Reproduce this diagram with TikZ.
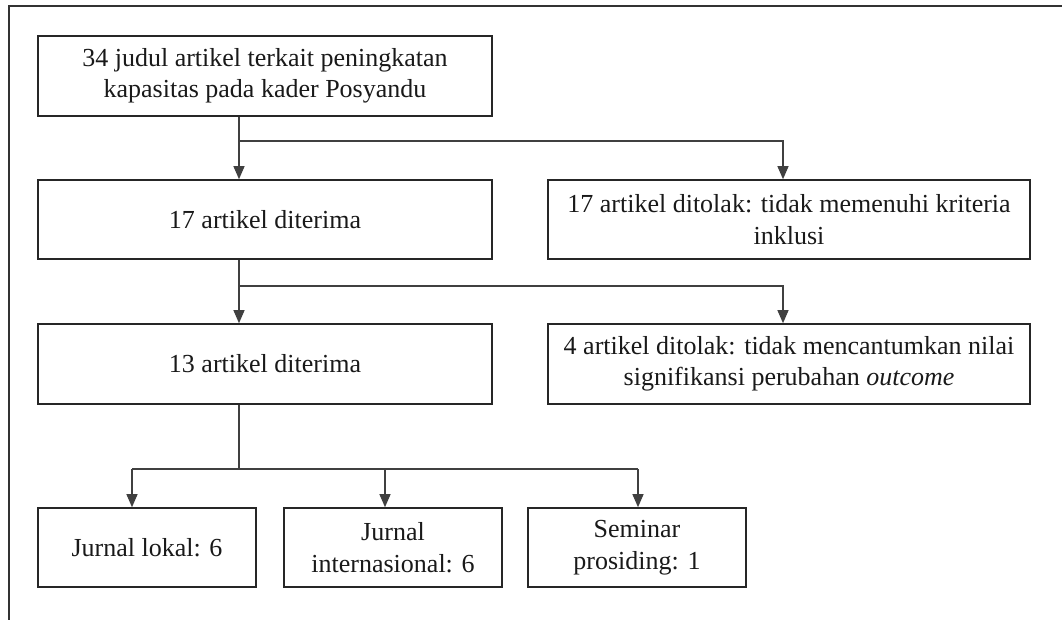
\documentclass[tikz,border=0pt]{standalone}
\usepackage{fontspec}
\setmainfont{Liberation Serif}
\usetikzlibrary{arrows.meta}
\begin{document}
\begin{tikzpicture}[x=1pt,y=-1pt,
  boxnode/.style={draw=black!85,line width=1.6pt,rectangle,inner sep=0pt,align=center,
    font=\fontsize{26}{31.5}\selectfont,text=black!90},
  mainbox/.style={boxnode,minimum width=454pt,minimum height=80pt},
  sidebox/.style={boxnode,minimum width=482pt,minimum height=80pt},
  smallbox/.style={boxnode,minimum width=218pt,minimum height=79pt},
  conn/.style={draw=black!75,line width=1.2pt},
  arr/.style={conn,-{Triangle[width=11pt,length=13pt]}}]
\useasboundingbox (0,0) rectangle (1062,620);
% outer frame (cropped)
\draw[black!80,line width=2pt] (1062,6) -- (9,6) -- (9,620);

\node[mainbox] (b1) at (265,76) {34 judul artikel terkait peningkatan\\kapasitas pada kader Posyandu};
\node[mainbox,minimum height=79pt] (b2) at (265,219.5) {17 artikel diterima};
\node[sidebox,minimum height=79pt] (r1) at (789,219.5) {17 artikel ditolak: tidak memenuhi kriteria\\inklusi};
\node[mainbox] (b3) at (265,364) {13 artikel diterima};
\node[sidebox] (r2) at (789,364) {4 artikel ditolak: tidak mencantumkan nilai\\signifikansi perubahan \textit{outcome}};
\node[smallbox] (j1) at (147,547.5) {Jurnal lokal: 6};
\node[smallbox] (j2) at (393,547.5) {Jurnal\\internasional: 6};
\node[smallbox] (j3) at (637,547.5) {Seminar\\prosiding: 1};

% branch points
\coordinate (s1) at (239,141);
\coordinate (k1) at (783,141);
\coordinate (s2) at (239,286);
\coordinate (k2) at (783,286);
\coordinate (s3) at (239,469);
\coordinate (t1) at (132,469);
\coordinate (t2) at (385,469);
\coordinate (t3) at (638,469);

\draw[arr] (b1.south -| s1) -- (b2.north -| s1);
\draw[arr] (s1) -- (k1) -- (r1.north -| k1);
\draw[arr] (b2.south -| s2) -- (b3.north -| s2);
\draw[arr] (s2) -- (k2) -- (r2.north -| k2);
\draw[conn] (b3.south -| s3) -- (s3);
\draw[conn] (t1) -- (t3);
\draw[arr] (t1) -- (j1.north -| t1);
\draw[arr] (t2) -- (j2.north -| t2);
\draw[arr] (t3) -- (j3.north -| t3);
\end{tikzpicture}
\end{document}
